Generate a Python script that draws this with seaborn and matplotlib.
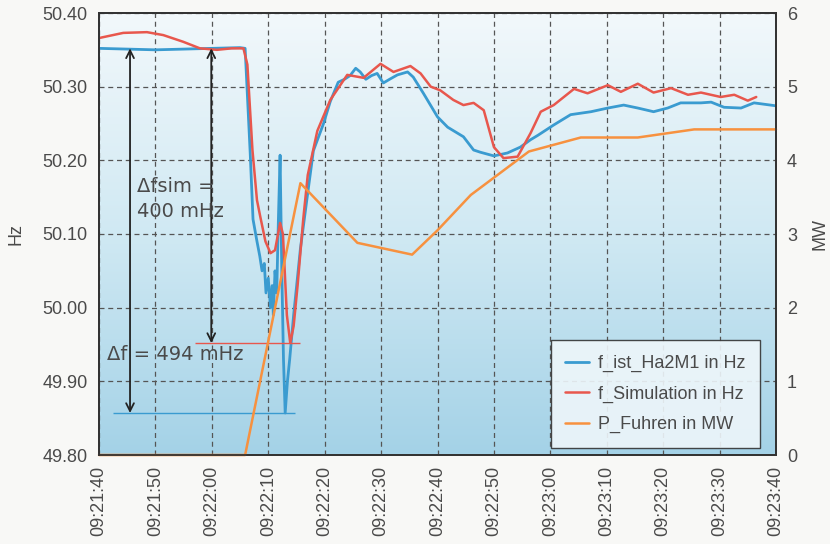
"""Frequency response after load shedding - measured vs simulated."""

import numpy as np
import pandas as pd
import seaborn as sns
import matplotlib
matplotlib.use("Agg")
import matplotlib.pyplot as plt
from matplotlib.colors import LinearSegmentedColormap

#########################################################################################
# Data (seconds after 09:21:40)
#########################################################################################

ist_t = [0, 5, 10, 15, 20, 25, 25.9, 26.8, 27.3, 28.0, 28.5, 28.9, 29.3, 29.6, 30.0,
         30.4, 30.7, 30.9, 31.2, 31.5, 31.8, 32.1, 32.4, 32.7, 33.0, 33.4, 33.8, 34.5,
         35.7, 36.9, 38.0, 39.8, 41.0, 42.4, 43.5, 44.5, 45.5, 46.3, 47.3, 48.3, 49.3,
         50.4, 51.5, 52.9, 54.7, 55.7, 57.5, 60.0, 61.8, 64.6, 66.4, 67.6, 70.0, 72.4,
         74.7, 76.5, 77.8, 80.6, 83.6, 87.2, 90.2, 93.0, 95.5, 98.3, 100.8, 103.1,
         106.7, 108.5, 110.8, 113.8, 116.1, 120]
ist_hz = [50.352, 50.351, 50.350, 50.351, 50.352, 50.353, 50.352, 50.21, 50.12, 50.09,
          50.07, 50.05, 50.06, 50.02, 50.04, 50.00, 50.03, 49.99, 50.05, 50.02, 50.12,
          50.207, 50.05, 49.93, 49.857, 49.90, 49.93, 49.99, 50.08, 50.15, 50.213, 50.25,
          50.28, 50.306, 50.31, 50.315, 50.325, 50.32, 50.31, 50.315, 50.318, 50.305,
          50.31, 50.316, 50.32, 50.313, 50.291, 50.259, 50.245, 50.232, 50.214, 50.211,
          50.206, 50.21, 50.218, 50.228, 50.234, 50.248, 50.262, 50.266, 50.271, 50.275,
          50.271, 50.266, 50.271, 50.278, 50.278, 50.279, 50.272, 50.271, 50.278, 50.274]

sim_t = [0, 4.3, 8.5, 11.4, 14.9, 17.9, 20.9, 23.5, 25.6, 26.3, 27.2, 28.0, 28.6, 29.5,
         30.4, 31.2, 32.1, 32.6, 33.3, 33.9, 34.5, 35.2, 36.2, 37.0, 38.7, 41.0, 44.0,
         46.9, 49.9, 52.2, 55.2, 57.0, 58.8, 60.5, 62.8, 64.6, 66.4, 68.2, 70.0, 71.7,
         74.2, 76.5, 78.3, 80.6, 84.2, 86.6, 90.2, 92.5, 95.5, 98.3, 101.4, 104.4, 106.7,
         110.2, 112.6, 115.0, 116.5]
sim_hz = [50.366, 50.373, 50.374, 50.370, 50.361, 50.352, 50.350, 50.352, 50.352, 50.33,
          50.214, 50.146, 50.123, 50.09, 50.074, 50.078, 50.115, 50.10, 49.99, 49.952,
          49.975, 50.03, 50.12, 50.18, 50.24, 50.282, 50.316, 50.312, 50.331, 50.32,
          50.328, 50.318, 50.30, 50.295, 50.282, 50.275, 50.278, 50.268, 50.218, 50.203,
          50.205, 50.237, 50.266, 50.275, 50.297, 50.291, 50.302, 50.293, 50.304, 50.292,
          50.298, 50.289, 50.292, 50.286, 50.289, 50.281, 50.286]

p_t = [0, 25.9, 35.7, 45.8, 55.5, 60.0, 65.9, 76.2, 85.4, 95.5, 105.5, 120]
p_mw = [0, 0, 3.69, 2.88, 2.72, 3.05, 3.53, 4.12, 4.31, 4.31, 4.42, 4.42]

time_labels = ["09:21:40", "09:21:50", "09:22:00", "09:22:10", "09:22:20", "09:22:30",
               "09:22:40", "09:22:50", "09:23:00", "09:23:10", "09:23:20", "09:23:30",
               "09:23:40"]

# Deviation markers: start level, minimum of measurement, minimum of simulation
f_start = 50.352
f_min_ist = 49.857
f_min_sim = 49.952

#########################################################################################

blue = "#3a9bd0"
red = "#e8574d"
orange = "#f7913f"
text_col = "#4a4a4a"

sns.set_theme(style="white")
plt.rcParams['font.family'] = ['Liberation Sans', 'DejaVu Sans']

fig = plt.figure(figsize=(8.3, 5.44), dpi=100, facecolor="#f8f8f6")
ax = fig.add_axes([99 / 830, 1 - 455 / 544, 677 / 830, 442 / 544])

# Background gradient
cmap = LinearSegmentedColormap.from_list("bg", ["#a4d2e7", "#d0e9f3", "#f2f8fb"])
grad = np.linspace(0, 1, 256).reshape(-1, 1)
ax.imshow(grad, extent=(0, 120, 49.8, 50.4), origin="lower", aspect="auto",
          cmap=cmap, zorder=-1)

ist = pd.DataFrame({"t": ist_t, "f": ist_hz})
sim = pd.DataFrame({"t": sim_t, "f": sim_hz})
pf = pd.DataFrame({"t": p_t, "p": p_mw})

sns.lineplot(data=ist, x="t", y="f", ax=ax, color=blue, lw=2, label="f_ist_Ha2M1 in Hz")
sns.lineplot(data=sim, x="t", y="f", ax=ax, color=red, lw=1.8, label="f_Simulation in Hz")

ax2 = ax.twinx()
sns.lineplot(data=pf, x="t", y="p", ax=ax2, color=orange, lw=1.8, label="P_Fuhren in MW")
for ln in ax2.get_lines():
    ln.set_clip_on(False)

ax.set_xlim(0, 120)
ax.set_ylim(49.8, 50.4)
ax2.set_ylim(0, 6)

# Deviation annotations
ax.hlines(f_min_ist, 2.5, 34.8, color=blue, lw=1)
ax.hlines(f_min_sim, 17, 35.7, color=red, lw=1)
arrow = dict(arrowstyle="<->", color="#222222", lw=1.3, mutation_scale=14, shrinkA=0, shrinkB=0)
ax.annotate("", xy=(5.5, f_start), xytext=(5.5, f_min_ist), arrowprops=arrow)
ax.annotate("", xy=(19.9, f_start), xytext=(19.9, f_min_sim), arrowprops=arrow)
ax.text(1.4, 49.936, "Δf = 494 mHz", fontsize=14, color=text_col, va="center",
        family="DejaVu Sans")
ax.text(6.7, 50.164, "Δfsim =", fontsize=14, color=text_col, va="center",
        family="DejaVu Sans")
ax.text(6.7, 50.131, "400 mHz", fontsize=14, color=text_col, va="center",
        family="DejaVu Sans")

# Axes styling
ax.set_xticks(np.arange(0, 121, 10))
ax.set_xticklabels(time_labels, rotation=90)
ax.set_yticks(np.arange(49.8, 50.41, 0.1))
ax.set_yticklabels([f"{v:.2f}" for v in np.arange(49.8, 50.41, 0.1)])
ax2.set_yticks(range(7))
ax.grid(True, ls=(0, (4, 3)), color="#555555", lw=0.9)
ax.set_axisbelow(True)
ax.set_xlabel("")
ax2.set_xlabel("")
ax.set_ylabel("Hz", fontsize=13, color=text_col, rotation=90, va="center")
ax2.set_ylabel("MW", fontsize=13, color=text_col, rotation=90, va="center")
ax.yaxis.set_label_coords(-0.122, 0.5)
ax2.yaxis.set_label_coords(1.065, 0.5)
for a in (ax, ax2):
    a.tick_params(length=0, labelsize=13, colors=text_col, pad=8)
    for s in a.spines.values():
        s.set_color("#333333")
        s.set_linewidth(1.3)

# Combined legend
ax.get_legend().remove()
ax2.get_legend().remove()
h1, l1 = ax.get_legend_handles_labels()
h2, l2 = ax2.get_legend_handles_labels()
leg = ax2.legend(h1 + h2, l1 + l2, loc="lower right", bbox_to_anchor=(0.976, 0.016),
                 borderaxespad=0, fontsize=13, frameon=True, fancybox=False,
                 handlelength=1.3, borderpad=0.8, labelspacing=0.75, handletextpad=0.5)
leg.get_frame().set_edgecolor("#333333")
leg.get_frame().set_facecolor("#eef6fa")
leg.get_frame().set_alpha(0.9)
for t in leg.get_texts():
    t.set_color(text_col)

fig.savefig("out.png", dpi=100, facecolor=fig.get_facecolor())
